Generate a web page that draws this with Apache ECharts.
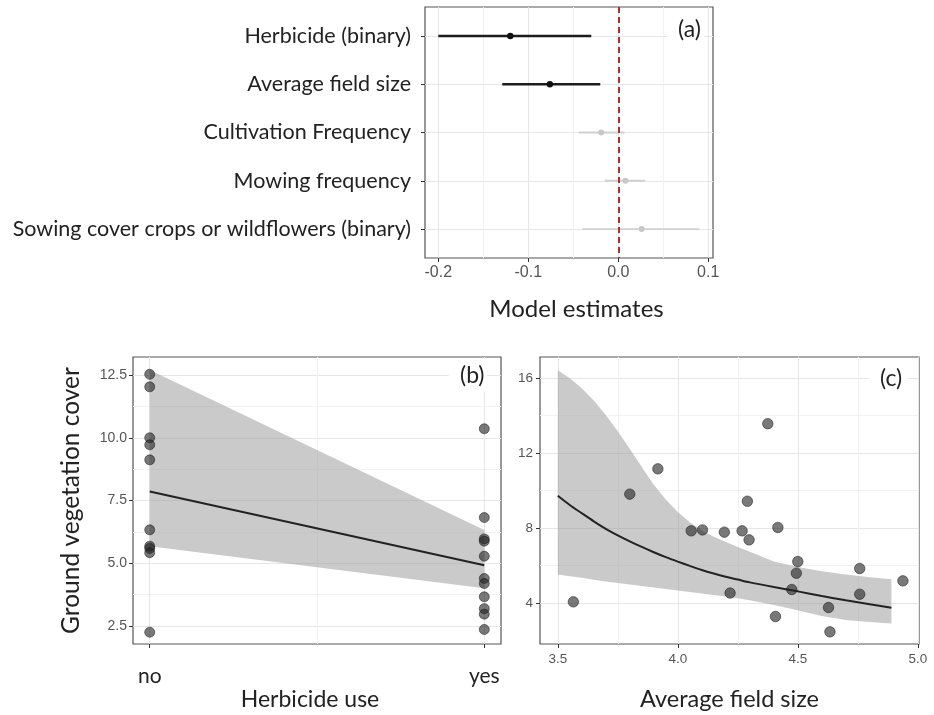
<!DOCTYPE html>
<html>
<head>
<meta charset="utf-8">
<script src="https://cdn.jsdelivr.net/npm/echarts@6/dist/echarts.min.js"></script>
<style>html,body{margin:0;padding:0;background:#fff}#c{width:934px;height:715px}</style>
</head>
<body>
<div id="c"></div>
<script>
// ---------- Panel (a): model estimates ----------
const aCategories = ['Herbicide (binary)', 'Average field size', 'Cultivation Frequency', 'Mowing frequency', 'Sowing cover crops or wildflowers (binary)'];
const aEstimate = [-0.120, -0.076, -0.019, 0.008, 0.026];
const aLower = [-0.200, -0.129, -0.044, -0.015, -0.040];
const aUpper = [-0.030, -0.020, 0.007, 0.030, 0.090];
const aSignificant = [1, 1, 0, 0, 0];
const aTicks = [-0.2, -0.1, 0.0, 0.1];
const aMinorTicks = [-0.15, -0.05, 0.05];

// ---------- Panel (b): herbicide use ----------
const bNo = [12.53, 12.03, 10.00, 9.72, 9.12, 6.33, 5.68, 5.59, 5.42, 2.25];
const bYes = [10.36, 6.82, 5.97, 5.88, 5.28, 4.39, 4.19, 3.66, 3.19, 2.97, 2.36];
const bCategories = ['no', 'yes'];
const bFitX = [0, 1];
const bFit = [7.86, 4.92];
const bLower = [5.68, 4.00];
const bUpper = [12.70, 6.32];
const bYTicks = [2.5, 5.0, 7.5, 10.0, 12.5];
const bYMinor = [3.75, 6.25, 8.75, 11.25];

// ---------- Panel (c): average field size ----------
const cX = [3.565, 3.80, 3.917, 4.056, 4.103, 4.194, 4.218, 4.268, 4.290, 4.297, 4.375, 4.407, 4.417, 4.475, 4.500, 4.494, 4.628, 4.634, 4.758, 4.758, 4.938];
const cY = [4.05, 9.80, 11.15, 7.84, 7.89, 7.77, 4.52, 7.84, 9.42, 7.36, 13.56, 3.27, 8.02, 4.71, 6.20, 5.58, 3.75, 2.45, 5.83, 4.46, 5.17];
const cFitX =  [3.5, 3.55, 3.6, 3.65, 3.7, 3.75, 3.8, 3.85, 3.9, 3.95, 4.0, 4.05, 4.1, 4.15, 4.2, 4.25, 4.3, 4.4, 4.5, 4.6, 4.7, 4.8, 4.89];
const cFit =   [9.71, 9.22, 8.78, 8.35, 7.95, 7.60, 7.28, 6.98, 6.70, 6.44, 6.20, 5.97, 5.75, 5.56, 5.39, 5.24, 5.09, 4.84, 4.61, 4.36, 4.13, 3.92, 3.73];
const cLower = [5.51, 5.42, 5.33, 5.23, 5.13, 5.05, 4.97, 4.89, 4.81, 4.73, 4.65, 4.57, 4.49, 4.41, 4.33, 4.24, 4.13, 3.88, 3.60, 3.30, 3.08, 2.97, 2.90];
const cUpper = [16.41, 15.98, 15.45, 14.80, 14.02, 13.15, 12.22, 11.25, 10.30, 9.52, 8.85, 8.30, 7.87, 7.52, 7.24, 6.98, 6.72, 6.20, 5.91, 5.69, 5.51, 5.36, 5.26];
const cXTicks = [3.5, 4.0, 4.5, 5.0];
const cXMinor = [3.75, 4.25, 4.75];
const cYTicks = [4, 8, 12, 16];
const cYMinor = [6, 10, 14];

const LABEL_FONT = 'Lato';
const TICK_FONT = '"Liberation Sans", Arial, sans-serif';
const GRID_MAJOR = '#e6e6e6';
const GRID_MINOR = '#f2f2f2';
const PT_COLOR = 'rgba(35,35,35,0.76)';
const RIBBON = 'rgba(150,150,150,0.5)';

function mainAxis(extra) {
  return Object.assign({
    type: 'value',
    axisLine: {show: false, onZero: false},
    axisTick: {show: true, length: 4, lineStyle: {color: '#333', width: 1}},
    splitLine: {show: true, lineStyle: {color: GRID_MAJOR, width: 1}},
    axisLabel: {color: '#555', fontFamily: TICK_FONT}
  }, extra);
}
function minorAxis(extra) {
  return Object.assign({
    type: 'value',
    axisLine: {show: false, onZero: false},
    axisTick: {show: false},
    axisLabel: {show: false},
    splitLine: {show: true, lineStyle: {color: GRID_MINOR, width: 1}}
  }, extra);
}
function pairs(xs, ys) { return xs.map((x, i) => [x, ys[i]]); }
function ribbonSeries(xIdx, yIdx, xs, lo, hi) {
  return {
    type: 'custom', xAxisIndex: xIdx, yAxisIndex: yIdx, silent: true, z: 2,
    data: xs.map((x, i) => [x, lo[i], hi[i]]),
    encode: {x: 0, y: [1, 2]},
    renderItem: function (params, api) {
      if (params.dataIndex !== 0) return null;
      const top = xs.map((x, i) => api.coord([x, hi[i]]));
      const bot = xs.map((x, i) => api.coord([x, lo[i]])).reverse();
      return {type: 'polygon', shape: {points: top.concat(bot)}, style: {fill: RIBBON}};
    }
  };
}

const chart = echarts.init(document.getElementById('c'), null, {renderer: 'canvas'});

const panelTitle = (t, left, top, padR) => ({
  text: t, left: left, top: top, padding: [5, padR, 5, 11], backgroundColor: '#fff',
  textStyle: {fontFamily: LABEL_FONT, fontSize: 23, fontWeight: 'normal', color: '#222'}
});

const option = {
  backgroundColor: '#fff',
  animation: false,
  title: [panelTitle('(a)', 667, 13, 3), panelTitle('(b)', 449, 359, 2), panelTitle('(c)', 869, 362, 6)],
  grid: [
    {left: 425, top: 7, width: 288, height: 251, show: true, borderColor: '#555', borderWidth: 1.2, backgroundColor: '#fff'},
    {left: 133, top: 357, width: 368, height: 287, show: true, borderColor: '#555', borderWidth: 1.2, backgroundColor: '#fff'},
    {left: 540, top: 357, width: 379, height: 287, show: true, borderColor: '#555', borderWidth: 1.2, backgroundColor: '#fff'}
  ],
  xAxis: [
    mainAxis({gridIndex: 0, min: -0.2148, max: 0.1053,
      axisTick: {show: true, length: 4, lineStyle: {color: '#333'}, customValues: aTicks},
      axisLabel: {color: '#555', fontFamily: TICK_FONT, fontSize: 16, margin: 7, customValues: aTicks, formatter: v => v.toFixed(1)},
      name: 'Model estimates', nameLocation: 'middle', nameGap: 39,
      nameTextStyle: {fontFamily: LABEL_FONT, fontSize: 24, color: '#222', padding: [0, 0, 0, 15]}}),
    minorAxis({gridIndex: 0, min: -0.2148, max: 0.1053, axisTick: {show: false, customValues: aMinorTicks}}),
    mainAxis({gridIndex: 1, min: -0.05, max: 1.05,
      axisTick: {show: true, length: 4, lineStyle: {color: '#333'}, customValues: [0, 1]},
      axisLabel: {color: '#222', fontFamily: LABEL_FONT, fontSize: 21, margin: 22, customValues: [0, 1], formatter: v => bCategories[Math.round(v)]},
      name: 'Herbicide use', nameLocation: 'middle', nameGap: 44,
      nameTextStyle: {fontFamily: LABEL_FONT, fontSize: 23, color: '#222', padding: [0, 14, 0, 0]}}),
    minorAxis({gridIndex: 1, min: -0.05, max: 1.05, axisTick: {show: false, customValues: [0.5]}}),
    mainAxis({gridIndex: 2, min: 3.426, max: 5.005,
      axisTick: {show: true, length: 4, lineStyle: {color: '#333'}, customValues: cXTicks},
      axisLabel: {color: '#555', fontFamily: TICK_FONT, fontSize: 13.5, margin: 8, customValues: cXTicks, formatter: v => v.toFixed(1)},
      name: 'Average field size', nameLocation: 'middle', nameGap: 43,
      nameTextStyle: {fontFamily: LABEL_FONT, fontSize: 23.5, color: '#222'}}),
    minorAxis({gridIndex: 2, min: 3.426, max: 5.005, axisTick: {show: false, customValues: cXMinor}})
  ],
  yAxis: [
    mainAxis({gridIndex: 0, inverse: true, min: -0.6, max: 4.6,
      axisTick: {show: true, length: 4, lineStyle: {color: '#333'}, customValues: [0, 1, 2, 3, 4]},
      axisLabel: {color: '#222', fontFamily: LABEL_FONT, fontSize: 21.5, margin: 14, customValues: [0, 1, 2, 3, 4], formatter: v => aCategories[Math.round(v)]}}),
    mainAxis({gridIndex: 1, min: 1.78, max: 13.22,
      axisTick: {show: true, length: 4, lineStyle: {color: '#333'}, customValues: bYTicks},
      axisLabel: {color: '#555', fontFamily: TICK_FONT, fontSize: 14, margin: 6, customValues: bYTicks, formatter: v => v.toFixed(1)},
      name: 'Ground vegetation cover', nameLocation: 'middle', nameGap: 49, nameRotate: 90,
      nameTextStyle: {fontFamily: LABEL_FONT, fontSize: 24.5, color: '#222'}}),
    minorAxis({gridIndex: 1, min: 1.78, max: 13.22, axisTick: {show: false, customValues: bYMinor}}),
    mainAxis({gridIndex: 2, min: 1.80, max: 17.12,
      axisTick: {show: true, length: 4, lineStyle: {color: '#333'}, customValues: cYTicks},
      axisLabel: {color: '#555', fontFamily: TICK_FONT, fontSize: 13.5, margin: 7, customValues: cYTicks, formatter: v => String(v)}}),
    minorAxis({gridIndex: 2, min: 1.80, max: 17.12, axisTick: {show: false, customValues: cYMinor}})
  ],
  series: [
    // Panel (a)
    {
      type: 'line', xAxisIndex: 0, yAxisIndex: 0, data: [], silent: true,
      markLine: {silent: true, symbol: 'none', label: {show: false},
        lineStyle: {color: '#a83232', type: [6, 4], width: 2},
        data: [{xAxis: 0}]},
      z: 3
    },
    {
      type: 'custom', xAxisIndex: 0, yAxisIndex: 0, z: 4,
      data: aCategories.map((c, i) => [aLower[i], aUpper[i], aEstimate[i], i, aSignificant[i]]),
      encode: {x: [0, 1, 2], y: 3},
      renderItem: function (params, api) {
        const lo = api.coord([api.value(0), api.value(3)]);
        const hi = api.coord([api.value(1), api.value(3)]);
        const pt = api.coord([api.value(2), api.value(3)]);
        const sig = api.value(4) === 1;
        const col = sig ? '#1c1c1c' : '#d0d0d0';
        return {type: 'group', children: [
          {type: 'line', shape: {x1: lo[0], y1: lo[1], x2: hi[0], y2: hi[1]}, style: {stroke: col, lineWidth: sig ? 2.4 : 1.8}},
          {type: 'circle', shape: {cx: pt[0], cy: pt[1], r: sig ? 3.2 : 3}, style: {fill: sig ? '#111' : '#c8c8c8'}}
        ]};
      }
    },
    // Panel (b)
    ribbonSeries(2, 1, bFitX, bLower, bUpper),
    {type: 'line', xAxisIndex: 2, yAxisIndex: 1, symbol: 'none', z: 3, lineStyle: {color: '#222', width: 2}, data: pairs(bFitX, bFit), silent: true},
    {type: 'scatter', xAxisIndex: 2, yAxisIndex: 1, symbolSize: 10, z: 4,
      itemStyle: {color: PT_COLOR, borderColor: 'rgba(20,20,20,0.8)', borderWidth: 0.8},
      data: bNo.map(v => [0, v]).concat(bYes.map(v => [1, v]))},
    // Panel (c)
    ribbonSeries(4, 3, cFitX, cLower, cUpper),
    {type: 'line', xAxisIndex: 4, yAxisIndex: 3, symbol: 'none', smooth: 0.3, z: 3, lineStyle: {color: '#222', width: 2}, data: pairs(cFitX, cFit), silent: true},
    {type: 'scatter', xAxisIndex: 4, yAxisIndex: 3, symbolSize: 10.5, z: 4,
      itemStyle: {color: PT_COLOR, borderColor: 'rgba(20,20,20,0.8)', borderWidth: 0.8},
      data: pairs(cX, cY)}
  ]
};
chart.setOption(option);
</script>
</body>
</html>
